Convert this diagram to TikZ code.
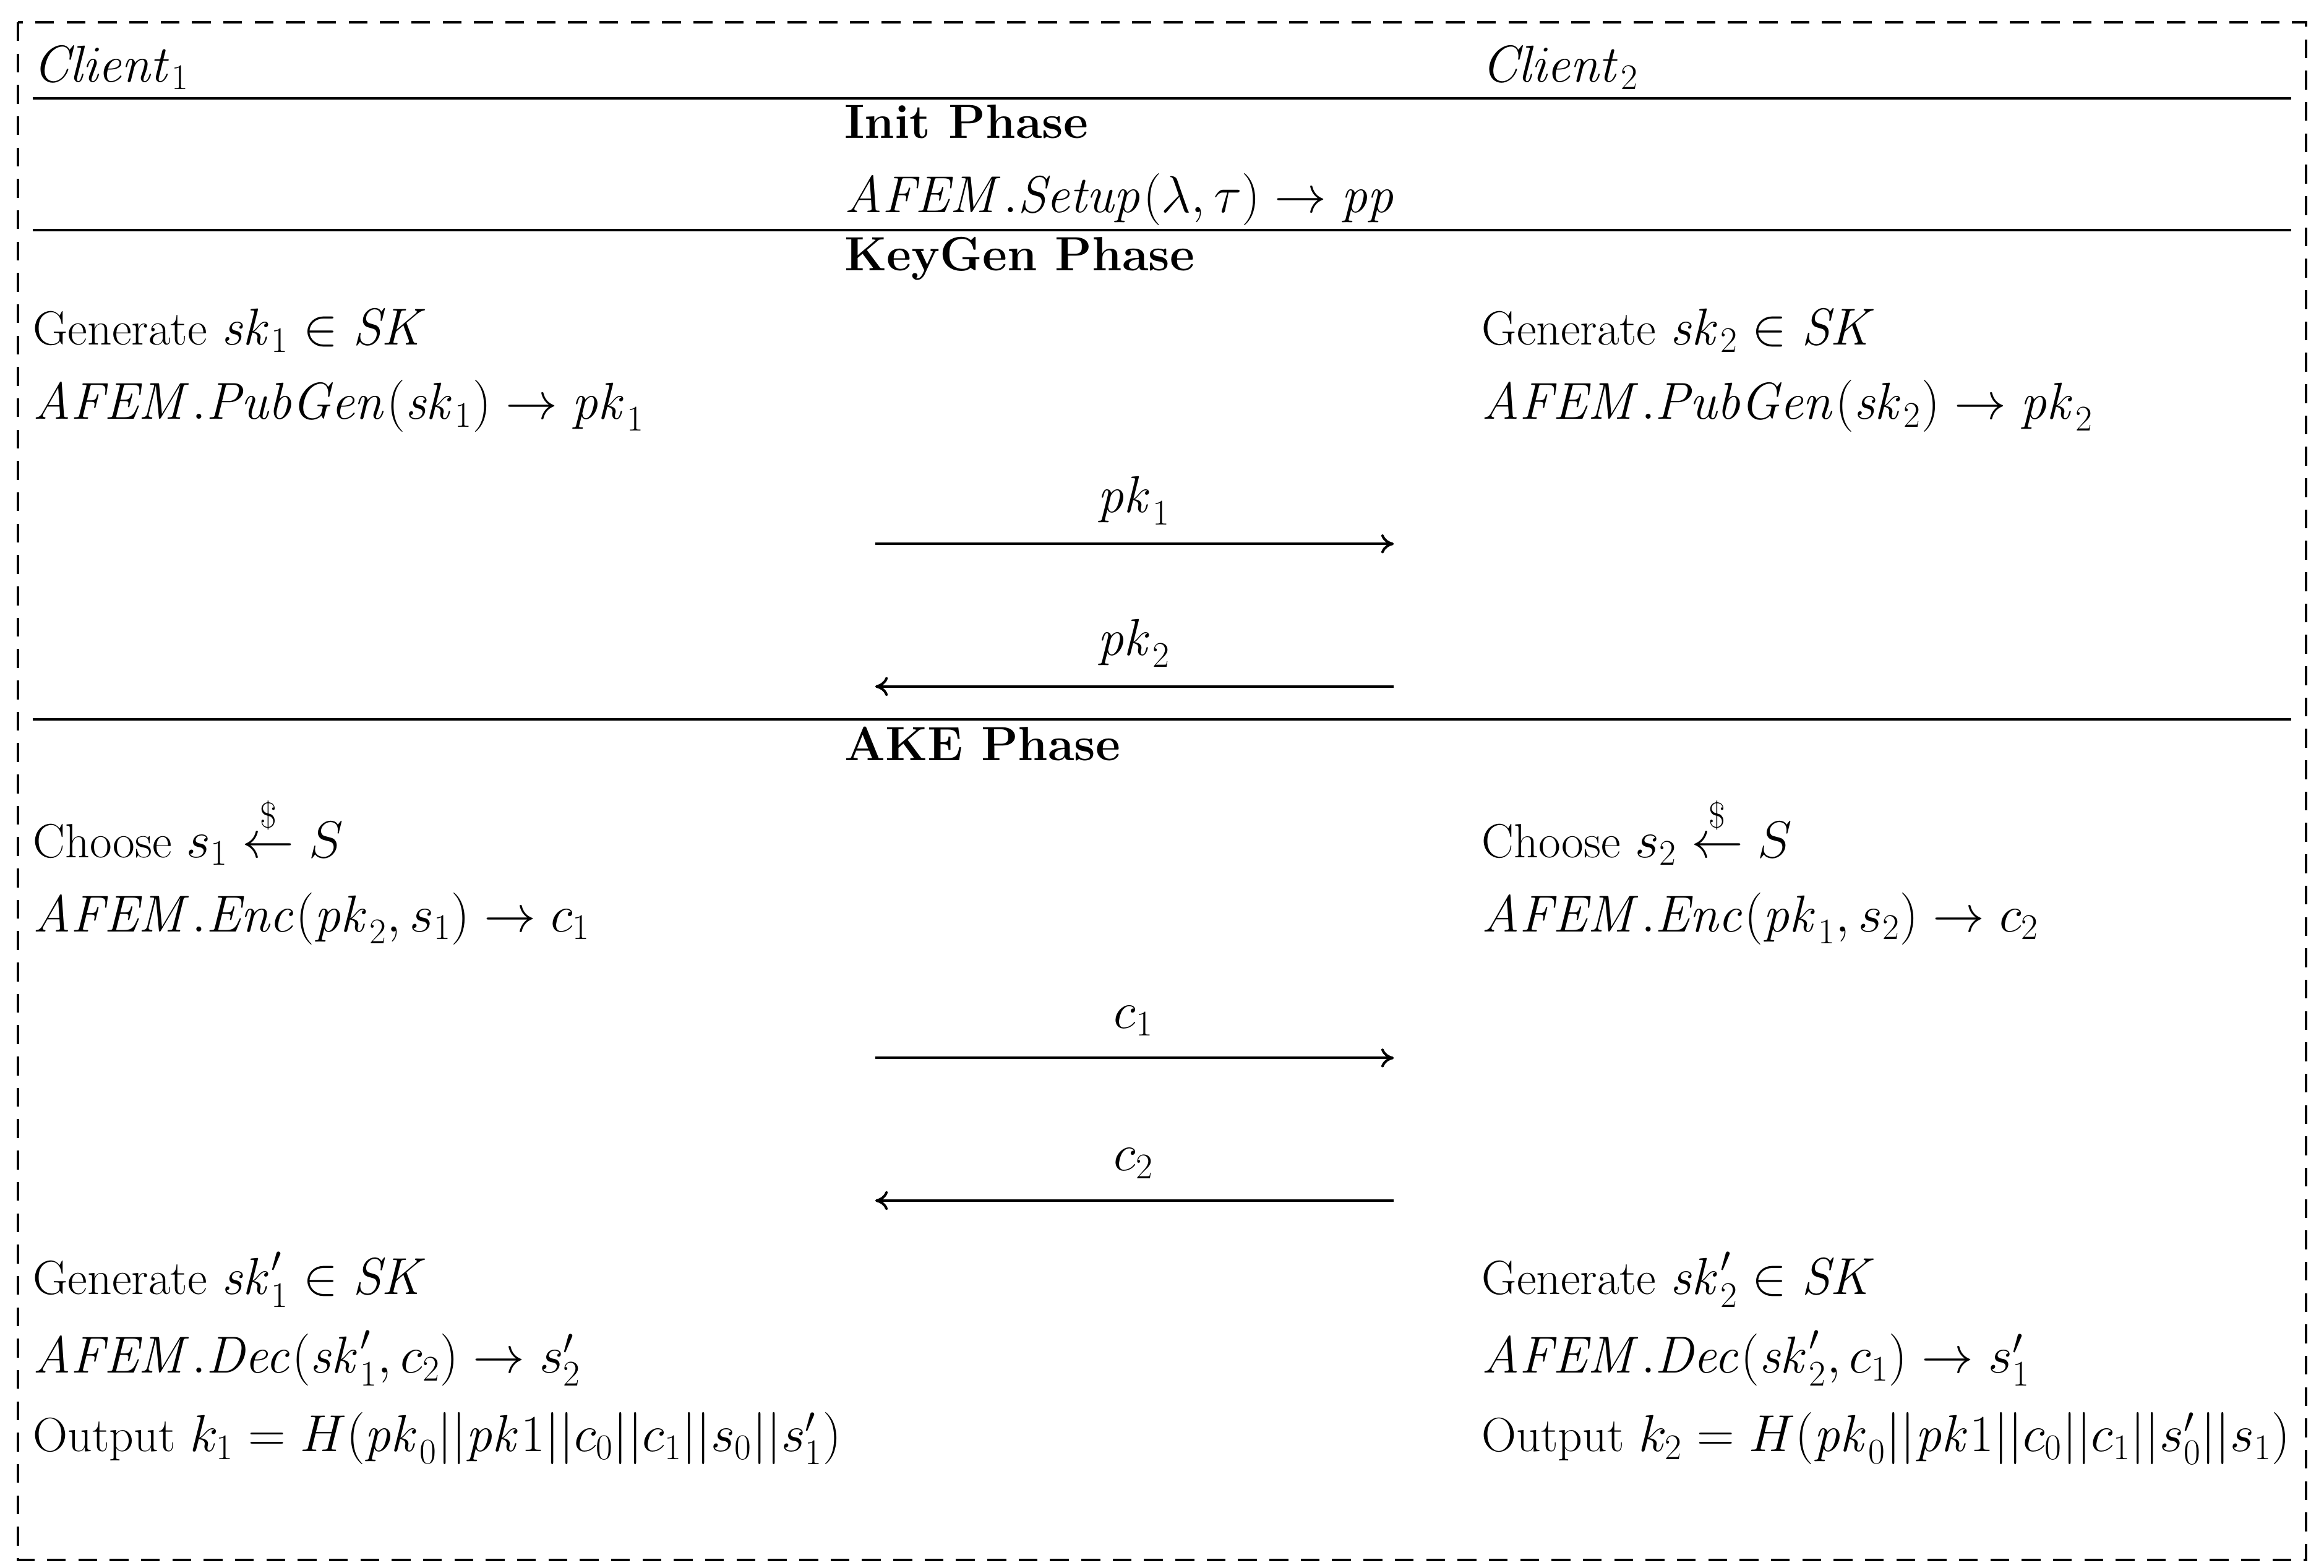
\documentclass[tikz,border=0pt]{standalone}
\usepackage{amsmath}
\usetikzlibrary{arrows.meta}
\begin{document}
\begin{tikzpicture}[x=0.025cm,y=-0.025cm,
  txt/.style={anchor=base west,inner sep=0pt,font=\fontsize{23}{27}\selectfont},
  lbl/.style={anchor=base,inner sep=0pt,font=\fontsize{23}{27}\selectfont},
  rule/.style={line width=1.2pt},
  msg/.style={line width=1.2pt,-{To[length=6pt,width=9pt]}}]
\useasboundingbox (0,0) rectangle (1564,1055);
\draw[dash pattern=on 9pt off 6pt,line width=1.2pt] (12,15) rectangle (1552,1050);
\foreach \y/\n in {66/a,155/b,484/c}{
  \coordinate (l\n) at (22,\y); \coordinate (r\n) at (1542,\y);
  \draw[rule] (l\n) -- (r\n);}
\node[txt] (c1) at (22,55) {$\mathit{Client}_1$};
\node[txt] (c2) at (997,55) {$\mathit{Client}_2$};
\node[txt] (ip) at (568,93) {\textbf{Init Phase}};
\node[txt] (setup) at (568,143) {$\mathit{AFEM.Setup}(\lambda,\tau)\rightarrow \mathit{pp}$};
\node[txt] (kp) at (568,182) {\textbf{KeyGen Phase}};
\node[txt] (g1) at (22,232) {Generate $\mathit{sk}_1\in \mathit{SK}$};
\node[txt] (p1) at (22,282) {$\mathit{AFEM.PubGen}(\mathit{sk}_1)\rightarrow \mathit{pk}_1$};
\node[txt] (g2) at (997,232) {Generate $\mathit{sk}_2\in \mathit{SK}$};
\node[txt] (p2) at (997,282) {$\mathit{AFEM.PubGen}(\mathit{sk}_2)\rightarrow \mathit{pk}_2$};
\coordinate (a1l) at (589,366); \coordinate (a1r) at (938,366);
\coordinate (a2l) at (589,462); \coordinate (a2r) at (938,462);
\coordinate (a3l) at (589,712); \coordinate (a3r) at (938,712);
\coordinate (a4l) at (589,808); \coordinate (a4r) at (938,808);
\draw[msg] (a1l) -- (a1r); \node[lbl] (m1) at (763,345) {$\mathit{pk}_1$};
\draw[msg] (a2r) -- (a2l); \node[lbl] (m2) at (763,441) {$\mathit{pk}_2$};
\node[txt] (ap) at (568,512) {\textbf{AKE Phase}};
\node[txt] (ch1) at (22,577) {Choose $s_1\overset{\$}{\leftarrow} S$};
\node[txt] (e1) at (22,627) {$\mathit{AFEM.Enc}(\mathit{pk}_2,s_1)\rightarrow c_1$};
\node[txt] (ch2) at (997,577) {Choose $s_2\overset{\$}{\leftarrow} S$};
\node[txt] (e2) at (997,627) {$\mathit{AFEM.Enc}(\mathit{pk}_1,s_2)\rightarrow c_2$};
\draw[msg] (a3l) -- (a3r); \node[lbl] (m3) at (763,692) {$c_1$};
\draw[msg] (a4r) -- (a4l); \node[lbl] (m4) at (763,788) {$c_2$};
\node[txt] (gg1) at (22,871) {Generate $\mathit{sk}_1'\in \mathit{SK}$};
\node[txt] (d1) at (22,924) {$\mathit{AFEM.Dec}(\mathit{sk}_1',c_2)\rightarrow s_2'$};
\node[txt] (o1) at (22,977) {Output $k_1=H(\mathit{pk}_0||\mathit{pk}1||c_0||c_1||s_0||s_1')$};
\node[txt] (gg2) at (997,871) {Generate $\mathit{sk}_2'\in \mathit{SK}$};
\node[txt] (d2) at (997,924) {$\mathit{AFEM.Dec}(\mathit{sk}_2',c_1)\rightarrow s_1'$};
\node[txt] (o2) at (997,977) {Output $k_2=H(\mathit{pk}_0||\mathit{pk}1||c_0||c_1||s_0'||s_1)$};
\end{tikzpicture}
\end{document}
